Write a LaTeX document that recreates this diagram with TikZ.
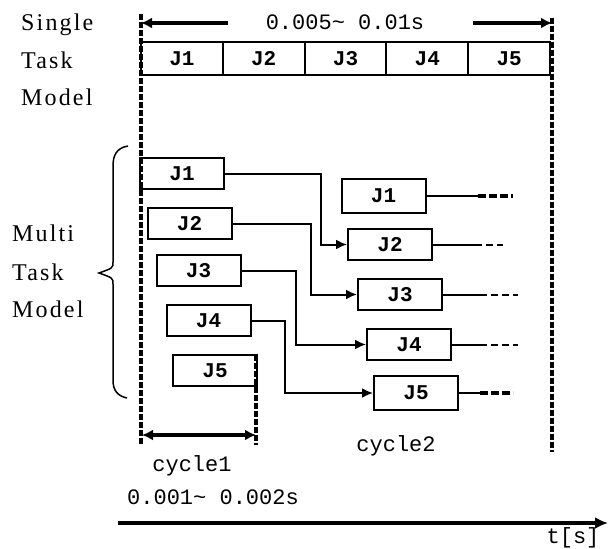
\documentclass[tikz,border=0pt]{standalone}
\usepackage{fontspec}
\setmainfont{Liberation Mono}
\newfontfamily\sidefont[LetterSpace=9]{Liberation Serif}
\usetikzlibrary{arrows.meta}
\tikzset{
  lbl/.style={font=\fontsize{22}{22}\selectfont, inner sep=0pt},
  side/.style={font=\sidefont\fontsize{24}{24}\selectfont, inner sep=0pt},
  jtxt/.style={font=\fontsize{21}{21}\selectfont\bfseries},
  job/.style={draw, line width=2pt, minimum width=84pt, minimum height=31pt, inner sep=0pt, jtxt},
  cell/.style={draw, line width=2pt, minimum width=81.8pt, minimum height=33pt, inner sep=0pt, jtxt},
  conn/.style={line width=2pt, -{Latex[length=11pt,width=10pt]}},
  tail/.style={line width=2pt},
  taildash/.style={line width=2pt, dash pattern=on 7pt off 4pt},
  tailbold/.style={line width=3.5pt, dash pattern=on 8pt off 3pt},
  border/.style={line width=3.2pt, dash pattern=on 6pt off 2pt},
  span/.style={line width=3.5pt},
}
\begin{document}
\begin{tikzpicture}[x=1pt, y=-1pt]
\useasboundingbox (0,0) rectangle (609,548);

% side labels
\node[side, anchor=west] (s1) at (21,25) {Single};
\node[side, anchor=west] (s2) at (21,60) {Task};
\node[side, anchor=west] (s3) at (21,97) {Model};
\node[side, anchor=west] (m1) at (12,233) {Multi};
\node[side, anchor=west] (m2) at (12,272) {Task};
\node[side, anchor=west] (m3) at (12,309) {Model};

% cycle boundaries
\coordinate (bl1) at (141,14);
\coordinate (bl2) at (141,445);
\coordinate (br1) at (552,18);
\coordinate (br2) at (552,452);
\draw[border] (bl1) -- (bl2);
\draw[border] (br1) -- (br2);

% single task model: one long cycle
\node[lbl] (tlong) at (345,22) {0.005\char"007E\ 0.01s};
\coordinate (ta1) at (228,23);
\coordinate (ta2) at (141,23);
\coordinate (ta3) at (473,23);
\coordinate (ta4) at (552,23);
\draw[span, -{Latex[length=11pt,width=11pt]}] (ta1) -- (ta2);
\draw[span, -{Latex[length=11pt,width=11pt]}] (ta3) -- (ta4);

\node[cell] (S1) at (181.9,58.5) {J1};
\node[cell] (S2) at (263.7,58.5) {J2};
\node[cell] (S3) at (345.5,58.5) {J3};
\node[cell] (S4) at (427.3,58.5) {J4};
\node[cell] (S5) at (509.1,58.5) {J5};

% multi task model: first cycle
\node[job] (L1) at (182,173.5) {J1};
\node[job] (L2) at (189.5,223.5) {J2};
\node[job] (L3) at (198.5,270.5) {J3};
\node[job] (L4) at (208.5,320.5) {J4};
\node[job] (L5) at (215,370.5) {J5};

% second cycle
\node[job, minimum height=34pt] (R1) at (383.5,196) {J1};
\node[job] (R2) at (390,244.5) {J2};
\node[job] (R3) at (400,294.5) {J3};
\node[job] (R4) at (409,344.5) {J4};
\node[job, minimum height=34pt] (R5) at (416,393) {J5};

% hand-over between the cycles
\draw[conn] (L1.east) -- ++(96,0) |- (R2.west);
\draw[conn] (L2.east) -- ++(78,0) |- (R3.west);
\draw[conn] (L3.east) -- ++(54,0) |- (R4.west);
\draw[conn] (L4.east) -- ++(33,0) |- (R5.west);

% continuations
\coordinate (e1a) at (478,196);  \coordinate (e1b) at (513,196);
\coordinate (e2a) at (475,244.5);  \coordinate (e2b) at (503,244.5);
\coordinate (e3a) at (480,294.5);  \coordinate (e3b) at (518,294.5);
\coordinate (e4a) at (480,344.5);  \coordinate (e4b) at (518,344.5);
\coordinate (e5a) at (480,393);  \coordinate (e5b) at (513,393);
\draw[tail] (R1.east) -- (e1a);  \draw[tailbold] (e1a) -- (e1b);
\draw[tail] (R2.east) -- (e2a);  \draw[taildash] (e2a) -- (e2b);
\draw[tail] (R3.east) -- (e3a);  \draw[taildash] (e3a) -- (e3b);
\draw[tail] (R4.east) -- (e4a);  \draw[taildash] (e4a) -- (e4b);
\draw[tail] (R5.east) -- (e5a);  \draw[tailbold] (e5a) -- (e5b);

% brace grouping the multi task jobs
\coordinate (bt) at (128,146);
\coordinate (bb) at (127,398);
\coordinate (btip) at (99,273);
\draw[line width=1.5pt] (bt) .. controls (116,148) and (113,156) .. (113,166)
  -- (113,262) .. controls (113,268) .. (btip)
  .. controls (113,278) .. (113,284) -- (113,380)
  .. controls (113,391) and (118,396) .. (bb);

% short cycle
\coordinate (c1) at (256,355);
\coordinate (c2) at (256,445);
\draw[border] (c1) -- (c2);
\coordinate (ca) at (142,435);
\coordinate (cb) at (256,435);
\draw[span, {Latex[length=11pt,width=11pt]}-{Latex[length=11pt,width=11pt]}] (ca) -- (cb);
\node[lbl] (cyc1) at (192,466) {cycle1};
\node[lbl] (cyc2) at (396,446) {cycle2};
\node[lbl] (tshort) at (213,497) {0.001\char"007E\ 0.002s};

% time axis
\coordinate (ax1) at (118,523);
\coordinate (ax2) at (608,523);
\draw[line width=3.8pt, -{Latex[length=13pt,width=12pt]}] (ax1) -- (ax2);
\node[lbl] (tunit) at (573,538) {t[s]};
\end{tikzpicture}
\end{document}
